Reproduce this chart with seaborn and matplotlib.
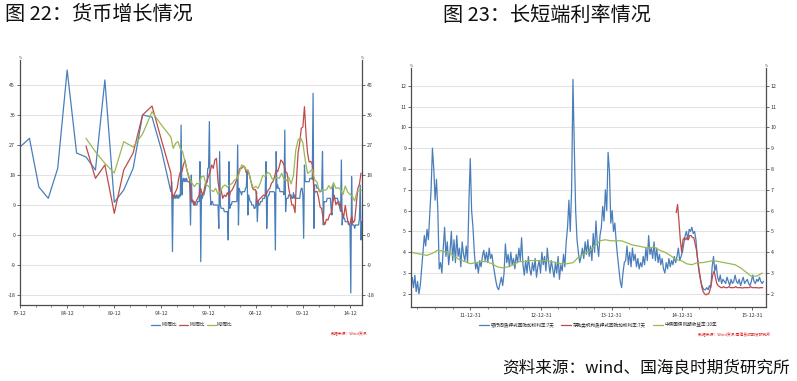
import numpy as np
import pandas as pd
import matplotlib
matplotlib.use("Agg")
import matplotlib.pyplot as plt
import matplotlib.dates as mdates
from matplotlib.ticker import FixedLocator, NullFormatter
import seaborn as sns

# ---------------- Left chart data (货币增长) ----------------
m0_annual_years = list(range(1979, 1996))
m0_annual = [26.4, 29.0, 14.4, 11.0, 20.0, 49.5, 24.6, 23.4, 19.5, 46.5, 9.8, 13.5, 20.0, 36.0, 35.4, 25.5, 13.0]
m12_annual_years = list(range(1986, 1996))
m1_annual = [26.7, 17.0, 21.0, 6.5, 19.5, 24.6, 36.0, 38.7, 28.5, 18.6]
m2_annual = [29.0, 25.0, 21.5, 18.6, 28.0, 26.4, 30.3, 37.0, 33.0, 29.4]

# monthly M0 yoy, 1996-01 .. 2016-03
m0_monthly = [
    16, -5, 12, 11, 12, 11, 12, 11, 12, 11, 12, 11.6,
    33, 12, 16, 17, 16, 17, 16, 17, 16, 16, 16, 15.6,
    3, 18, 10, 10, 9, 10, 9, 9, 9, 10, 10, 10.1,
    22, -8, 12, 11, 12, 12, 13, 14, 15, 16, 20, 20.1,
    34, 13, 9, 10, 10, 9, 9, 9, 9, 9, 9, 8.9,
    2, 25, 9, 8, 8, 8, 8, 7, 7, 7, 7, 7.1,
    -1.5, 22, 8, 9, 9, 10, 10, 10, 10, 10, 10, 10.1,
    27, 3, 14, 13, 13, 12, 13, 13, 13, 13, 14, 14.3,
    19, 6, 12, 11, 10, 10, 9, 9, 9, 8, 8, 8.7,
    13, 4, 10, 9, 9, 10, 10, 10, 11, 11, 11, 11.9,
    22, 2, 11, 12, 12, 13, 13, 13, 13, 13, 13, 12.7,
    -4.5, 25, 14, 15, 14, 14, 13, 13, 13, 13, 13, 12.1,
    31.5, 7, 11, 11, 11, 12, 12, 12, 12, 11, 11, 12.7,
    11, 12, 11, 11, 11, 11, 11, 11, 13, 14, 14, 11.8,
    -1, 21, 16, 16, 16, 16, 16, 16, 17, 17, 17, 16.7,
    42.5, 2, 15, 15, 15, 14, 14, 14, 13, 13, 13, 13.8,
    25, 3, 10, 10, 10, 10, 11, 11, 11, 11, 11, 7.7,
    6, 15, 12, 11, 11, 11, 11, 11, 10, 10, 8, 7.1,
    22.5, 3, 6, 5, 5, 4, 4, 4, 4, 4, 3, 2.9,
    -17.4, 17.5, 3, 3, 3, 2, 3, 3, 3, 3, 3, 4.9,
    15, -1.5, 4,
]
# bimonthly M1 yoy, 1996-02 .. 2016-02
m1_bimonthly = [
    11, 12, 13, 14, 17, 18.9,
    19, 21, 22.5, 20, 18, 16.5,
    10, 10.5, 9, 10, 11, 11.9,
    14, 12, 13, 15.5, 16, 17.7,
    19, 21, 20, 22.5, 23, 16,
    13, 13.5, 11, 12, 11.5, 12.7,
    11.5, 13, 13.5, 14.5, 15.5, 16.8,
    18.5, 20, 20, 20.5, 20.4, 18.7,
    19.5, 18, 16, 14, 13.5, 13.6,
    9.5, 10.5, 11, 11.5, 12, 11.8,
    12.5, 13.5, 14, 15.5, 16, 17.5,
    19.5, 19, 20.5, 22.5, 22, 21,
    19, 18.5, 14, 11.5, 9, 9,
    6.7, 17, 24.8, 27.7, 32, 32.4,
    38.5, 30.4, 24.6, 21.9, 22.1, 21.2,
    13.5, 12.9, 13.1, 11.2, 8.4, 7.9,
    4.3, 3.1, 4.7, 4.5, 6.1, 6.5,
    9.5, 11.9, 9.1, 9.9, 8.9, 9.3,
    6.9, 5.4, 8.9, 5.7, 3.2, 3.2,
    5.6, 3.7, 4.3, 9.3, 14, 15.2,
    18.6,
]
# quarterly M2 yoy, 1996-03 .. 2016-03
m2_quarterly = [
    26, 27.5, 28, 26,
    25, 22, 19, 17,
    15.5, 14.5, 15.5, 15.3,
    17.5, 17.7, 15, 14.7,
    13.5, 13, 14, 12.3,
    13, 14.5, 15, 14.4,
    15, 15.5, 16.5, 16.8,
    18.5, 21, 20.7, 19.6,
    19, 16, 14, 14.6,
    14, 15.7, 17.9, 17.6,
    18.8, 18.4, 16.8, 16.9,
    17.3, 17, 18.5, 16.7,
    16.3, 17.4, 15.3, 17.8,
    25.5, 28.5, 29.3, 27.7,
    22.5, 18.5, 19, 19.7,
    16.6, 15.9, 13, 13.6,
    13.4, 13.6, 14.8, 13.8,
    15.7, 14, 14.2, 13.6,
    12.1, 14.7, 12.9, 12.2,
    11.6, 10.2, 13.1, 13.3,
    13.4,
]
left_xticks = ["79-12", "84-12", "89-12", "94-12", "99-12", "04-12", "09-12", "14-12"]
left_yticks = [-18, -9, 0, 9, 18, 27, 36, 45]
left_labels = ["M0同比", "M1同比", "M2同比"]

# ---------------- Right chart data (利率) ----------------
repo7d_weekly = [
    2.5, 2.8, 2.3, 2.9, 2.1, 2.6, 2.0, 2.4,
    3.2, 4.0, 4.8, 4.3, 5.1, 4.6,
    5.8, 7.0, 9.0,
    8.0, 6.5, 7.5, 6.0,
    3.2, 3.5, 3.0,
    4.2, 5.2, 3.8, 4.5,
    3.4, 4.0, 5.0, 3.6, 4.6, 3.5, 4.8, 3.8, 4.2, 3.3,
    4.5, 3.9, 3.6, 4.3, 3.5,
    6.4, 8.5, 6.0, 5.2, 4.0,
    3.2, 3.5, 3.0, 3.6, 3.3,
    3.8, 4.1, 3.6, 4.0, 3.5, 4.2, 3.7,
    3.9, 3.4, 3.0,
    2.6, 2.3, 2.2, 2.5, 2.8, 2.4, 3.0,
    4.4, 3.5, 3.9, 3.3, 4.0, 3.4, 3.7, 3.2, 3.9, 3.5, 4.2, 3.6, 4.7,
    3.4, 2.9, 3.6, 3.0, 3.8, 3.2, 2.9, 3.5, 3.1, 3.7, 2.8, 3.3,
    3.6, 3.0, 4.0, 3.4, 3.8, 3.1, 4.2, 3.5, 3.0, 3.6,
    3.2, 2.8, 3.5, 3.0, 3.8, 2.7, 3.4, 3.1, 3.9, 3.3,
    4.5, 5.2, 6.5, 5.0, 7.0,
    12.3, 9.0, 6.0,
    4.6, 4.0, 3.5, 3.8,
    4.2, 3.7, 4.5, 3.9, 4.6, 3.8, 4.3, 3.6, 4.9,
    4.0, 5.5, 4.4, 3.8, 4.8,
    5.2, 6.2, 5.5, 7.0, 6.0, 8.8,
    7.9, 5.4, 6.0, 5.0, 5.4, 4.5,
    3.8, 3.2, 2.6, 2.3, 3.0, 3.5,
    3.6, 4.3, 3.4, 4.0, 3.3, 4.2, 3.6, 3.9, 3.3, 3.7, 3.2, 3.5,
    3.3, 3.8, 3.4, 4.2, 3.6, 4.8, 3.9, 4.2,
    3.7, 4.5, 3.6, 4.2, 3.5, 3.9, 3.4, 3.7, 3.2,
    3.0, 3.5, 3.2, 3.7, 3.3, 3.6, 3.4, 3.8, 3.5,
    3.8, 4.2, 3.6, 3.8,
    4.0, 4.4, 4.8, 5.0, 4.6, 5.1, 5.0,
    5.2, 4.9, 5.0, 4.6, 3.8,
    3.2, 2.8, 2.5, 2.3, 2.2, 2.2,
    2.3, 2.2, 2.4, 2.3,
    3.3, 3.8, 3.1, 3.4,
    2.8, 2.6, 2.9, 2.5, 2.7, 2.6, 2.5, 2.8, 2.6, 2.4, 2.7, 2.5, 2.6, 2.9, 2.6,
    2.5, 2.7, 2.4, 2.6, 2.8, 2.5, 2.6, 2.7, 2.5, 2.4, 2.6, 2.9, 2.6, 2.5, 2.7,
    2.6, 2.8, 2.6, 2.5, 2.6,
]
dr007_weekly = [
    5.9, 6.3, 5.5, 4.6, 4.0, 4.6, 4.7, 4.6, 4.7, 4.6, 4.8, 4.8, 4.7, 4.7, 4.4, 4.1,
    3.6, 3.1, 2.7, 2.3, 2.1, 2.0, 1.95, 2.0, 2.0, 2.2, 2.5, 2.9, 3.1, 2.8, 2.5,
    2.4, 2.35, 2.3, 2.3, 2.35, 2.3, 2.3, 2.3, 2.35, 2.3, 2.3, 2.3, 2.3, 2.35, 2.3, 2.3, 2.3,
    2.3, 2.28, 2.3, 2.3, 2.3, 2.3, 2.3, 2.35, 2.3, 2.3, 2.3, 2.3, 2.3, 2.28, 2.3, 2.3, 2.3,
]
cgb10y_4w = [
    4.0, 3.95, 3.9, 3.85, 3.95, 4.1, 4.05, 4.0, 3.8, 3.65, 3.55, 3.45, 3.5, 3.55, 3.55, 3.45,
    3.3, 3.25, 3.3, 3.4, 3.55, 3.55, 3.6, 3.6, 3.6, 3.6, 3.55, 3.5, 3.45, 3.45, 3.5, 3.75,
    3.9, 4.05, 4.3, 4.55, 4.6, 4.55, 4.55, 4.55, 4.45, 4.35, 4.3, 4.25, 4.2, 4.25, 4.1, 4.0,
    3.85, 3.65, 3.6, 3.45, 3.4, 3.5, 3.5, 3.55, 3.6, 3.55, 3.5, 3.45, 3.4, 3.25, 3.05, 2.85,
    2.85, 3.0,
]
right_xticks = ["11-12-31", "12-12-31", "13-12-31", "14-12-31", "15-12-31"]
right_yticks = [2, 3, 4, 5, 6, 7, 8, 9, 10, 11, 12]
right_labels = ["银行间质押式回购加权利率:7天", "存款类机构质押式回购加权利率:7天", "中债国债到期收益率:10年"]

# ---------------- Build frames ----------------
def annual_dates(years):
    return [pd.Timestamp(f"{y}-12-01") for y in years]

m0_dates = annual_dates(m0_annual_years) + list(pd.date_range("1996-01-01", periods=len(m0_monthly), freq="MS"))
m1_dates = annual_dates(m12_annual_years) + list(pd.date_range("1996-02-01", periods=len(m1_bimonthly), freq="2MS"))
m2_dates = annual_dates(m12_annual_years) + list(pd.date_range("1996-03-01", periods=len(m2_quarterly), freq="3MS"))
df_m0 = pd.DataFrame({"date": m0_dates, "v": m0_annual + m0_monthly})
df_m1 = pd.DataFrame({"date": m1_dates, "v": m1_annual + m1_bimonthly})
df_m2 = pd.DataFrame({"date": m2_dates, "v": m2_annual + m2_quarterly})

df_repo = pd.DataFrame({"date": pd.date_range("2011-02-25", periods=len(repo7d_weekly), freq="7D"), "v": repo7d_weekly})
df_dr = pd.DataFrame({"date": pd.date_range("2014-12-01", periods=len(dr007_weekly), freq="7D"), "v": dr007_weekly})
df_cgb = pd.DataFrame({"date": pd.date_range("2011-02-25", periods=len(cgb10y_4w), freq="28D"), "v": cgb10y_4w})

# ---------------- Style ----------------
sns.set_theme(style="white")
plt.rcParams["font.family"] = ["Noto Sans CJK SC", "DejaVu Sans"]
plt.rcParams["axes.unicode_minus"] = False

BLUE = "#4A7EBB"
RED = "#BE4B48"
GREEN = "#98B954"
SPINE = "#4d4d4d"
GRID = "#e3e3e3"
TICKC = "#333333"

W, H = 797, 381
fig = plt.figure(figsize=(W / 100, H / 100), dpi=100)
fig.patch.set_facecolor("white")

def px_axes(x0, y0, x1, y1):
    return fig.add_axes([x0 / W, 1 - y1 / H, (x1 - x0) / W, (y1 - y0) / H])

def style_axes(ax, yticks):
    ax.set_facecolor("white")
    for s in ["left", "right", "bottom"]:
        ax.spines[s].set_visible(True)
        ax.spines[s].set_color(SPINE)
        ax.spines[s].set_linewidth(0.9)
    ax.spines["top"].set_visible(False)
    ax.set_yticks(yticks)
    ax.set_yticklabels([str(t) for t in yticks])
    ax.yaxis.grid(True, color=GRID, linewidth=0.8)
    ax.xaxis.grid(False)
    ax.set_axisbelow(True)
    ax.tick_params(axis="y", which="both", left=True, right=True, labelleft=True, labelright=True,
                   direction="out", length=2, width=0.6, color=SPINE, labelsize=3.8, labelcolor=TICKC, pad=1.5)
    ax.tick_params(axis="x", which="major", bottom=True, direction="out", length=2.5, width=0.6,
                   color=SPINE, labelsize=3.8, labelcolor=TICKC, pad=2)
    ax.tick_params(axis="x", which="minor", bottom=True, direction="out", length=1.5, width=0.5, color=SPINE)
    ax.set_xlabel("")
    ax.set_ylabel("")
    ax.text(0, 1.0, "%", transform=ax.transAxes, fontsize=2.5, ha="center", va="bottom", color=TICKC)
    ax.text(1, 1.0, "%", transform=ax.transAxes, fontsize=2.5, ha="center", va="bottom", color=TICKC)

# ---------------- Left chart ----------------
axL = px_axes(20, 60, 362, 305)
sns.lineplot(data=df_m0, x="date", y="v", ax=axL, color=BLUE, linewidth=0.9, label=left_labels[0])
sns.lineplot(data=df_m1, x="date", y="v", ax=axL, color=RED, linewidth=0.9, label=left_labels[1])
sns.lineplot(data=df_m2, x="date", y="v", ax=axL, color=GREEN, linewidth=0.9, label=left_labels[2])
axL.set_xlim(mdates.date2num(pd.Timestamp("1979-12-01")), mdates.date2num(pd.Timestamp("2016-03-10")))
axL.set_ylim(-21, 52.5)
style_axes(axL, left_yticks)
major_years = [1979, 1984, 1989, 1994, 1999, 2004, 2009, 2014]
axL.xaxis.set_major_locator(FixedLocator([mdates.date2num(pd.Timestamp(f"{y}-12-01")) for y in major_years]))
axL.set_xticklabels(left_xticks)
minorL = []
for y in major_years + [2019]:
    base = pd.Timestamp(f"{y}-12-01")
    for k in (1, 2):
        minorL.append(mdates.date2num(base + pd.DateOffset(months=20 * k)))
axL.xaxis.set_minor_locator(FixedLocator(minorL))
axL.xaxis.set_minor_formatter(NullFormatter())
leg = axL.legend(loc="center", bbox_to_anchor=(192 / W, 1 - 325 / H), bbox_transform=fig.transFigure,
                 ncol=3, frameon=False, fontsize=3.3, handlelength=1.8, columnspacing=0.6, handletextpad=0.3)

# ---------------- Right chart ----------------
axR = px_axes(411, 68, 766, 307)
sns.lineplot(data=df_repo, x="date", y="v", ax=axR, color=BLUE, linewidth=0.9, label=right_labels[0])
sns.lineplot(data=df_dr, x="date", y="v", ax=axR, color=RED, linewidth=0.9, label=right_labels[1])
sns.lineplot(data=df_cgb, x="date", y="v", ax=axR, color=GREEN, linewidth=0.9, label=right_labels[2])
axR.set_xlim(mdates.date2num(pd.Timestamp("2011-02-26")), mdates.date2num(pd.Timestamp("2016-03-10")))
axR.set_ylim(1.37, 12.85)
style_axes(axR, right_yticks)
axR.xaxis.set_major_locator(FixedLocator([mdates.date2num(pd.Timestamp(f"{y}-12-31")) for y in range(2011, 2016)]))
axR.set_xticklabels(right_xticks)
minorR = [mdates.date2num(d) for d in pd.date_range("2011-03-31", "2016-03-31", freq="QE")]
axR.xaxis.set_minor_locator(FixedLocator(minorR))
axR.xaxis.set_minor_formatter(NullFormatter())
axR.legend(loc="center", bbox_to_anchor=(598 / W, 1 - 325 / H), bbox_transform=fig.transFigure,
           ncol=3, frameon=False, fontsize=3.3, handlelength=2.2, columnspacing=1.5, handletextpad=0.3)

# ---------------- Texts ----------------
fig.text(5 / W, 1 - 15 / H, "图 22：货币增长情况", fontsize=14.5, ha="left", va="center", color="#111111")
fig.text(443 / W, 1 - 15 / H, "图 23：长短端利率情况", fontsize=14.5, ha="left", va="center", color="#111111")
fig.text(367 / W, 1 - 334 / H, "数据来源：Wind资讯", fontsize=2.8, ha="right", va="center", color="#e02020")
fig.text(770 / W, 1 - 335 / H, "数据来源：Wind资讯 国海良时期货研究所", fontsize=2.8, ha="right", va="center", color="#e02020")
fig.text(790 / W, 1 - 368 / H, "资料来源：wind、国海良时期货研究所", fontsize=12, ha="right", va="center", color="#111111")

fig.savefig("out.png", dpi=100, facecolor="white")
